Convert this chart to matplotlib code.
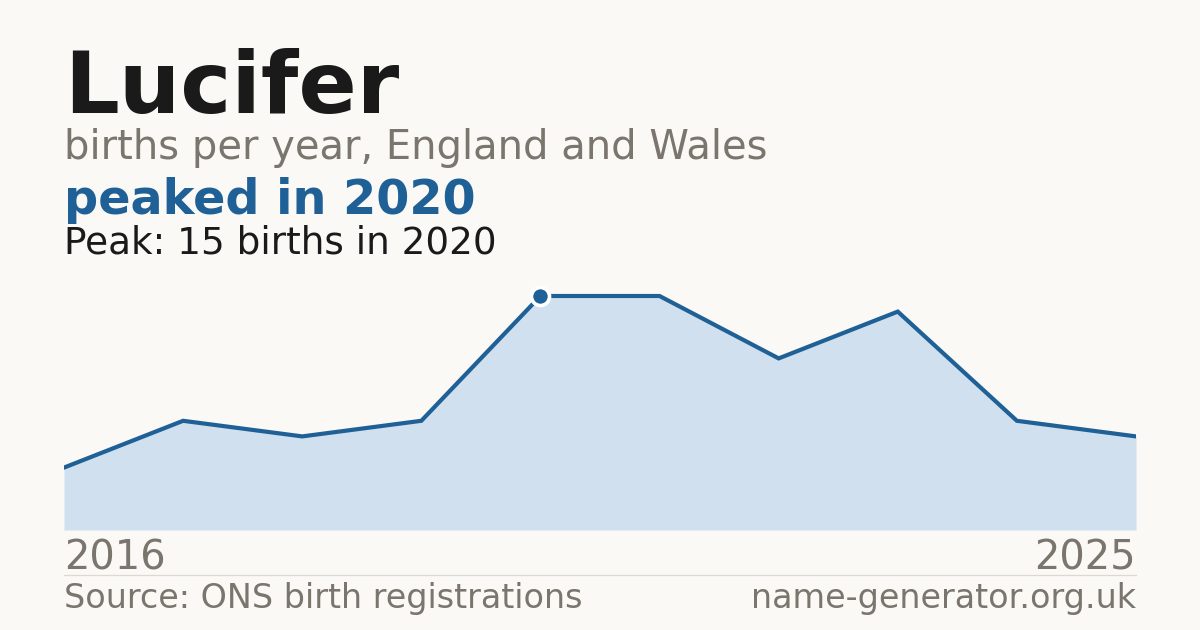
import matplotlib
matplotlib.use("Agg")
import matplotlib.pyplot as plt

# data
years = [2016, 2017, 2018, 2019, 2020, 2021, 2022, 2023, 2024, 2025]
births = [4, 7, 6, 7, 15, 15, 11, 14, 7, 6]
peak_year = 2020
peak_value = 15

name = "Lucifer"
subtitle = "births per year, England and Wales"
headline = "peaked in 2020"
peak_note = "Peak: 15 births in 2020"
source = "Source: ONS birth registrations"
site = "name-generator.org.uk"

BG = "#faf9f5"
BLUE = "#1f6096"
FILL = "#d0e0ef"
INK = "#1a1a1a"
GREY = "#7a756d"
RULE = "#dcd9d2"

W, H = 1200, 630
fig = plt.figure(figsize=(W / 100, H / 100), dpi=100)
fig.patch.set_facecolor(BG)

def fy(px):
    return 1 - px / H

def fx(px):
    return px / W

# plot area: x 64..1136 px, y 280..530 px
ax = fig.add_axes([fx(64), fy(530), fx(1136) - fx(64), (530 - 280.4) / H])
ax.set_facecolor(BG)
ax.fill_between(years, births, 0, color=FILL, lw=0)
ax.plot(years, births, color=BLUE, lw=3.0, solid_joinstyle="miter")
ax.plot([peak_year], [peak_value], "o", ms=13, color=BLUE,
        mec="white", mew=2.6, zorder=5, clip_on=False)
ax.set_xlim(years[0], years[-1])
ax.set_ylim(0, 16)
ax.axis("off")

fam = "DejaVu Sans"
fig.text(fx(64), fy(113), name, fontsize=62, fontweight="bold", color=INK,
         family=fam, va="baseline", ha="left")
fig.text(fx(64), fy(159), subtitle, fontsize=28.8, color=GREY,
         family=fam, va="baseline", ha="left")
fig.text(fx(64), fy(214), headline, fontsize=34.4, fontweight="bold", color=BLUE,
         family=fam, va="baseline", ha="left")
fig.text(fx(64), fy(253), peak_note, fontsize=26.9, color=INK,
         family=fam, va="baseline", ha="left")

fig.text(fx(64), fy(570), str(years[0]), fontsize=28.8, color=GREY,
         family=fam, va="baseline", ha="left")
fig.text(fx(1136), fy(570), str(years[-1]), fontsize=28.8, color=GREY,
         family=fam, va="baseline", ha="right")

fig.add_artist(plt.Line2D([fx(64), fx(1136)], [fy(574.5), fy(574.5)],
                          color=RULE, lw=0.9))

fig.text(fx(64), fy(608), source, fontsize=24, color=GREY,
         family=fam, va="baseline", ha="left")
fig.text(fx(1136), fy(608), site, fontsize=24, color=GREY,
         family=fam, va="baseline", ha="right")

fig.savefig("out.png", dpi=100, facecolor=BG)
